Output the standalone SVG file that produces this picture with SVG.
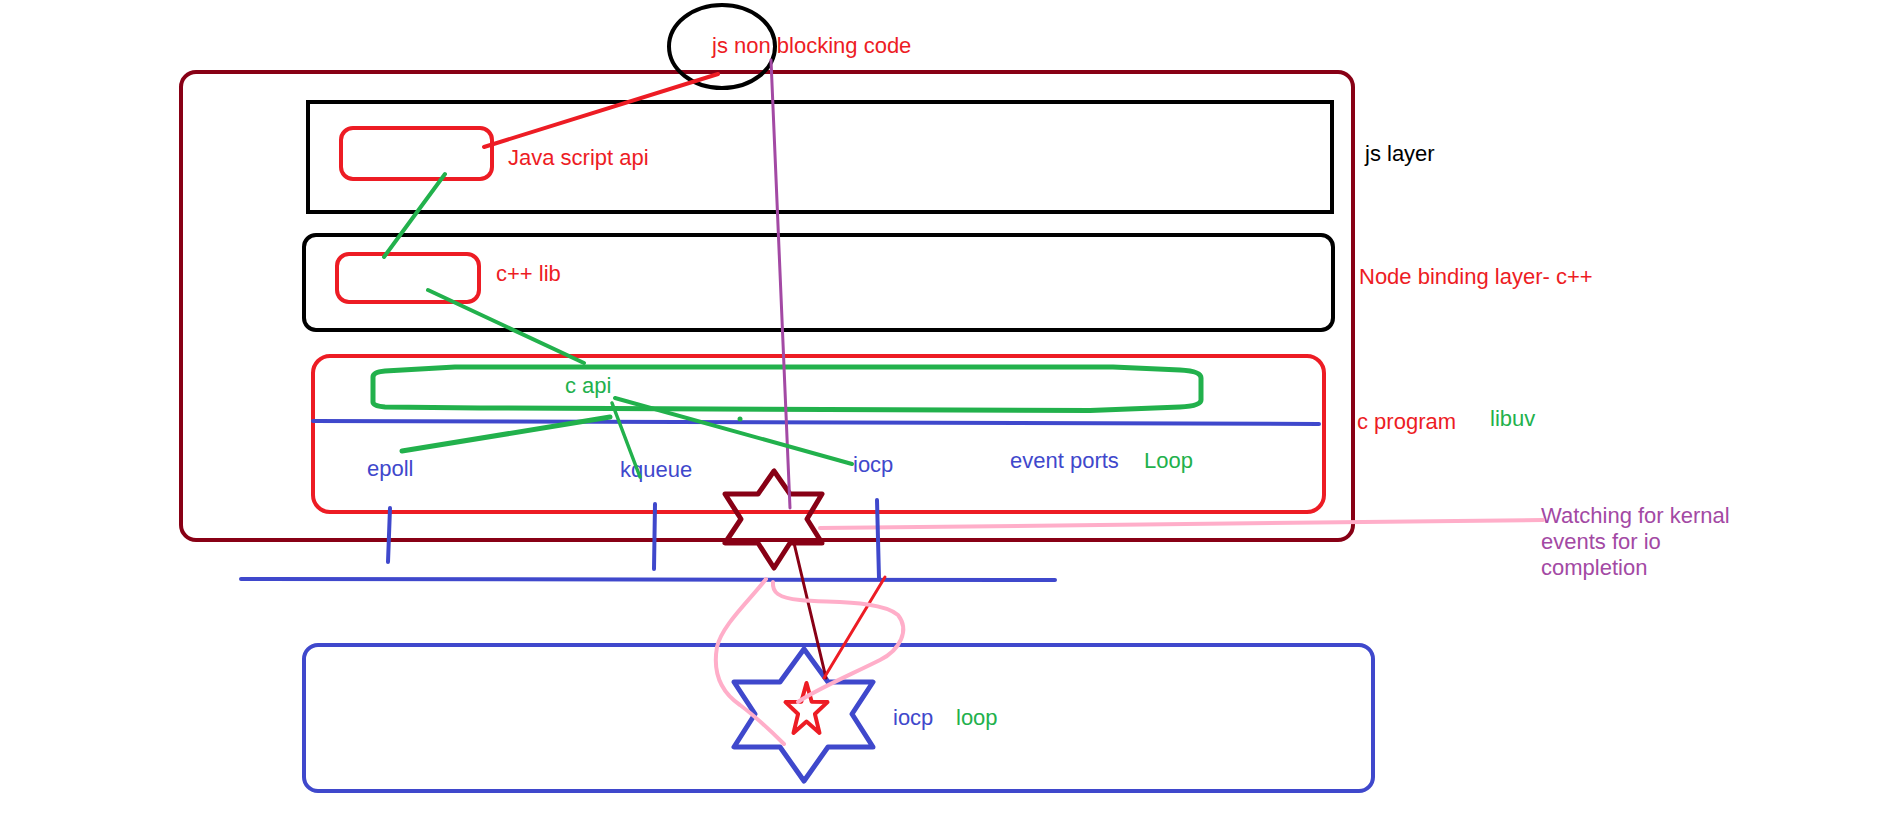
<svg xmlns="http://www.w3.org/2000/svg" width="1901" height="822" viewBox="0 0 1901 822">
<style>
text{font-family:"Liberation Sans",Arial,sans-serif;font-size:22px}
.box{fill:none;stroke-width:4}
.ln{fill:none;stroke-linecap:round;stroke-linejoin:round}
.maroon{stroke:#880015}.red{stroke:#ED1C24}.green{stroke:#22B14C}.blue{stroke:#3F48CC}.black{stroke:#000}.purple{stroke:#A349A4}.pink{stroke:#FFAEC9}
.tr{fill:#ED1C24}.tg{fill:#22B14C}.tb{fill:#3F48CC}.tk{fill:#000}.tp{fill:#A349A4}
</style>
<rect width="1901" height="822" fill="#fff"/>
<g id="outer-node"><rect class="box maroon" x="181" y="72" width="1172" height="468" rx="15"/></g>
<g id="js-layer"><rect class="box black" x="308" y="102" width="1024" height="110"/><text class="tk" x="1365" y="161">js layer</text></g>
<g id="binding-layer"><rect class="box black" x="304" y="235" width="1029" height="95" rx="12"/><text class="tr" x="1359" y="284">Node binding layer- c++</text></g>
<g id="c-program"><rect class="box red" x="313" y="356" width="1011" height="156" rx="17"/><text class="tr" x="1357" y="429">c program</text><text class="tg" x="1490" y="426">libuv</text></g>
<g id="js-code"><ellipse class="box black" cx="722" cy="46.5" rx="53" ry="41.5"/><text class="tr" x="712" y="53">js non blocking code</text></g>
<g id="js-api"><rect class="box red" x="341" y="128" width="151" height="51" rx="12"/><text class="tr" x="508" y="165">Java script api</text></g>
<g id="cpp-lib"><rect class="box red" x="337" y="254" width="142" height="48" rx="12"/><text class="tr" x="496" y="281">c++ lib</text></g>
<g id="c-api"><path class="ln green" stroke-width="5" d="M373,377 L373,402 Q373,406 385,407 L480,408 L1090,410.5 L1180,407 Q1201,406 1201,400 L1201,378 Q1201,371 1180,370 L1113,367 L455,367 L385,371 Q373,372 373,377 Z"/><text class="tg" x="565" y="393">c api</text></g>
<g id="backends"><text class="tb" x="367" y="476">epoll</text><text class="tb" x="620" y="477">kqueue</text><text class="tb" x="853" y="472">iocp</text><text class="tb" x="1010" y="468">event ports</text><text class="tg" x="1144" y="468">Loop</text></g>
<g id="loop-star"><polygon class="ln maroon" stroke-width="5" points="774,471 758,494 725,494 741,519 725,543 758,543 774,568 790,543 822,543 807,519 822,494 790,494"/></g>
<g id="note"><text class="tp" x="1541" y="523">Watching for kernal</text><text class="tp" x="1541" y="549">events for io</text><text class="tp" x="1541" y="575">completion</text></g>
<g id="iocp-loop"><rect class="box blue" x="304" y="645" width="1069" height="146" rx="14"/><polygon class="ln blue" stroke-width="5" points="804,649 780,682 734,682 755,714 734,747 780,747 804,781 828,747 873,747 852,714 873,682 828,682"/><polygon class="ln red" stroke-width="4" points="806.5,683 811.7,701.7 827.5,702.1 814.9,714 819.5,732.9 806.5,721.6 793.5,732.9 798.1,714 785.5,702.1 801.3,701.7"/><text class="tb" x="893" y="725">iocp</text><text class="tg" x="956" y="725">loop</text></g>
<g id="connectors">
<line class="ln blue" stroke-width="4" x1="313" y1="421" x2="1319" y2="424"/>
<line class="ln red" stroke-width="4" x1="718" y1="74" x2="484" y2="147"/>
<line class="ln purple" stroke-width="3" x1="771" y1="60" x2="790" y2="508"/>
<line class="ln green" stroke-width="4" x1="445" y1="174" x2="384" y2="257"/>
<line class="ln green" stroke-width="4" x1="428" y1="290" x2="584" y2="363"/>
<line class="ln green" stroke-width="5" x1="610" y1="417" x2="402" y2="451"/>
<line class="ln green" stroke-width="3.5" x1="612" y1="403" x2="640" y2="477"/>
<line class="ln green" stroke-width="4" x1="615" y1="398" x2="852" y2="464"/>
<circle cx="740" cy="419" r="2.5" fill="#22B14C"/>
<path class="ln pink" stroke-width="4" d="M820,528 L1100,525 L1543,520"/>
<line class="ln blue" stroke-width="4" x1="390" y1="508" x2="388" y2="562"/>
<line class="ln blue" stroke-width="4" x1="655" y1="504" x2="654" y2="569"/>
<line class="ln blue" stroke-width="4" x1="877" y1="500" x2="879" y2="578"/>
<line class="ln blue" stroke-width="4" x1="241" y1="579" x2="1055" y2="580"/>
<line class="ln maroon" stroke-width="3" x1="794" y1="543" x2="826" y2="678"/>
<line class="ln red" stroke-width="3" x1="885" y1="577" x2="824" y2="678"/>
<path class="ln pink" stroke-width="4" d="M766,579 C750,600 722,625 717,647 C713,670 718,690 740,705 C760,720 775,735 784,744"/>
<path class="ln pink" stroke-width="4" d="M773,582 C772,592 778,598 800,600 C830,603 880,600 898,615 C910,630 900,650 880,660 C850,675 815,690 798,702"/>
</g>
</svg>
